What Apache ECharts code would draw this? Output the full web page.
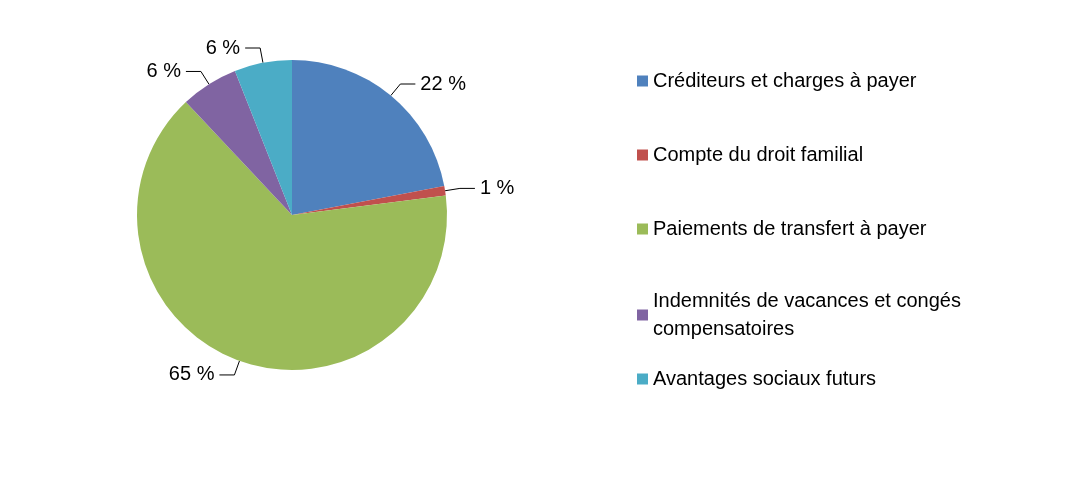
<!DOCTYPE html>
<html><head><meta charset="utf-8">
<script src="https://cdn.jsdelivr.net/npm/echarts@6/dist/echarts.min.js"></script>
<style>html,body{margin:0;padding:0;background:#fff}#c{width:1080px;height:483px}</style>
</head><body><div id="c"></div>
<script>
const categories = ["Créditeurs et charges à payer","Compte du droit familial","Paiements de transfert à payer","Indemnités de vacances et congés compensatoires","Avantages sociaux futurs"];
const values = [22, 1, 65, 6, 6];
const colors = ["#4F81BD","#C0504D","#9BBB59","#8064A2","#4BACC6"];
const legendTops = [62, 136, 210, 282, 360];
const chart = echarts.init(document.getElementById('c'));
const legends = categories.map((n,i)=>({
  data:[n], left:632, top:legendTops[i], orient:'vertical', itemWidth:11, itemHeight:11, icon:'rect',
  textStyle:{fontFamily:'Liberation Sans, Arial', fontSize:20, color:'#000', lineHeight:28},
  formatter: t => t==="Indemnités de vacances et congés compensatoires" ? "Indemnités de vacances et congés\ncompensatoires" : t
}));
chart.setOption({
  color: colors,
  legend: legends,
  series:[{
    type:'pie', center:[292,215], radius:155, startAngle:90, clockwise:true,
    data: categories.map((n,i)=>({name:n, value:values[i]})),
    label:{formatter:'{c} %', fontFamily:'Liberation Sans, Arial', fontSize:20, color:'#000'},
    labelLine:{lineStyle:{color:'#000', width:1}, length:15, length2:15},
    itemStyle:{borderColor:'#fff', borderWidth:0}
  }]
});
</script></body></html>
